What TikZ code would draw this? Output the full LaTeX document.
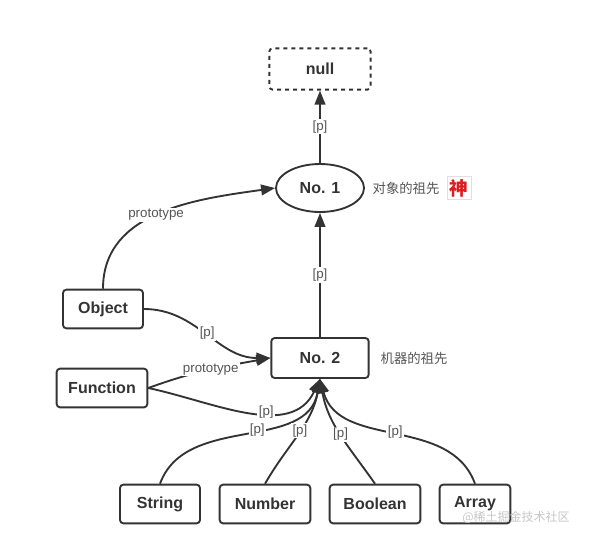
\documentclass[tikz,border=0pt]{standalone}
\usepackage{fontspec}
\setmainfont{Liberation Sans}
\newfontfamily\cjk{Noto Sans CJK SC}
\usetikzlibrary{shapes.geometric, arrows.meta, positioning}
\definecolor{cLine}{RGB}{51,51,51}
\definecolor{cText}{RGB}{85,85,85}
\definecolor{cRed}{RGB}{220,30,30}

\begin{document}
\begin{tikzpicture}[x=0.75pt, y=-0.75pt,
            box/.style={rectangle, draw=cLine, line width=1.4pt, rounded corners=2.5pt, minimum height=29pt, font=\bfseries\fontsize{12}{14}\selectfont, text=cLine},
            ell/.style={ellipse, draw=cLine, line width=1.4pt, minimum width=66pt, minimum height=36pt, font=\bfseries\fontsize{12}{14}\selectfont, text=cLine},
            ed/.style={draw=cLine, line width=1.4pt, -{Triangle[length=10.5pt, width=8pt]}},
            lbl/.style={fill=white, inner sep=1pt, text=cText, font=\fontsize{10}{11}\selectfont},
            note/.style={text=cText, font=\cjk\fontsize{10}{11}\selectfont, anchor=west}]
            \useasboundingbox (0,0) rectangle (591,540);
            % ancestors
            \node[box, dashed, minimum width=76pt, minimum height=31pt] (null) at (320,69) {null};
            \node[ell] (no1) at (320,188) {No. 1};
            \node[box, minimum width=73pt, minimum height=30pt] (no2) at (320,358) {No. 2};
            \node[note] (n1) at (368,188) {对象的祖先};
            \node[draw=gray!25, fill=white, inner sep=2pt, text=cRed, font=\cjk\bfseries\fontsize{14}{15}\selectfont, right=2pt of n1] (shen) {神};
            \node[note] (n2) at (376,358) {机器的祖先};
            % constructors
            \node[box, minimum width=60pt] (obj) at (103,309) {Object};
            \node[box, minimum width=68pt] (fun) at (102,388) {Function};
            \node[box, minimum width=60pt] (str) at (160,504) {String};
            \node[box, minimum width=68pt] (num) at (265,504) {Number};
            \node[box, minimum width=68pt] (bool) at (375,504) {Boolean};
            \node[box, minimum width=53pt] (arr) at (475,504) {Array};
            % links
            \draw[ed] (no1.north) -- node[lbl] {[p]} (null.south);
            \draw[ed] (no2.north) -- node[lbl] {[p]} (no1.south);
            \draw[ed] (obj.north) to[out=90, in=188] node[lbl, pos=0.48] {prototype} (no1.west);
            \draw[ed] (obj.east) to[out=0, in=180] node[lbl, pos=0.5] {[p]} (no2.west);
            \draw[ed] (fun.east) to[out=20, in=190] node[lbl, pos=0.52] {prototype} (no2.west);
            \draw[ed] (fun.east) to[out=-12, in=245] node[lbl, pos=0.6] {[p]} (no2.south);
            \draw[ed] (str.north) to[out=70, in=260] node[lbl, pos=0.56] {[p]} (no2.south);
            \draw[ed] (num.north) to[out=60, in=260] node[lbl, pos=0.53] {[p]} (no2.south);
            \draw[ed] (bool.north) to[out=125, in=280] node[lbl, pos=0.5] {[p]} (no2.south);
            \draw[ed] (arr.north) to[out=110, in=285] node[lbl, pos=0.5] {[p]} (no2.south);
            \node[text=gray!45, font=\cjk\fontsize{9}{10}\selectfont] (wm) at (516,517) {@稀土掘金技术社区};
        \end{tikzpicture}
\end{document}
